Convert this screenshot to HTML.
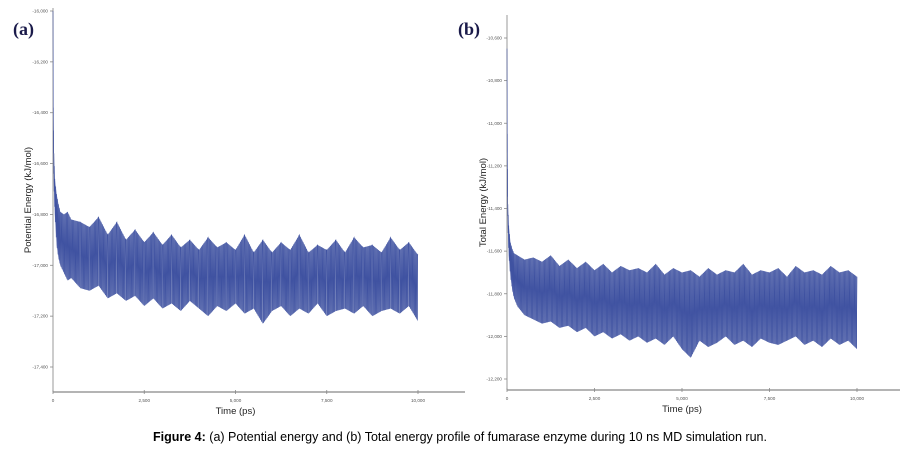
<!DOCTYPE html>
<html><head><meta charset="utf-8"><style>
body{margin:0;background:#fff;width:919px;height:452px;overflow:hidden;font-family:"Liberation Sans",sans-serif}
svg{position:absolute;left:0;top:0}
</style></head><body>
<svg id="chart" width="919" height="452">
<text x="13" y="35" font-family="Liberation Serif" font-weight="bold" font-size="18" fill="#1a1a4a">(a)</text>
<text x="458" y="35" font-family="Liberation Serif" font-weight="bold" font-size="18" fill="#1a1a4a">(b)</text>
<text x="460" y="441" text-anchor="middle" font-size="12.5" fill="#000"><tspan font-weight="bold">Figure 4:</tspan> (a) Potential energy and (b) Total energy profile of fumarase enzyme during 10 ns MD simulation run.</text>
</svg>
<script>
const times=[0,10,25,50,100,150,200,300,400,500,750,1000,1250,1500,1750,2000,2250,2500,2750,3000,3250,3500,3750,4000,4250,4500,4750,5000,5250,5500,5750,6000,6250,6500,6750,7000,7250,7500,7750,8000,8250,8500,8750,9000,9250,9500,9750,10000];
const peHigh=[-16000,-16380,-16560,-16660,-16720,-16760,-16790,-16800,-16790,-16820,-16830,-16850,-16810,-16880,-16830,-16900,-16860,-16910,-16870,-16920,-16880,-16930,-16900,-16940,-16890,-16930,-16910,-16940,-16880,-16950,-16900,-16950,-16910,-16940,-16880,-16950,-16920,-16940,-16900,-16950,-16890,-16930,-16920,-16950,-16890,-16940,-16910,-16960];
const peLow=[-16000,-16520,-16680,-16800,-16920,-16970,-17000,-17030,-17060,-17050,-17090,-17100,-17080,-17130,-17110,-17140,-17120,-17160,-17130,-17170,-17150,-17180,-17140,-17170,-17200,-17160,-17180,-17150,-17190,-17170,-17230,-17180,-17160,-17200,-17170,-17190,-17150,-17200,-17180,-17170,-17190,-17160,-17200,-17180,-17170,-17190,-17160,-17220];
const teHigh=[-10650,-11050,-11380,-11480,-11560,-11590,-11610,-11620,-11630,-11640,-11630,-11650,-11620,-11670,-11640,-11680,-11650,-11690,-11660,-11700,-11670,-11690,-11680,-11700,-11660,-11710,-11680,-11700,-11690,-11720,-11680,-11710,-11690,-11700,-11660,-11710,-11690,-11700,-11680,-11720,-11670,-11700,-11690,-11710,-11670,-11700,-11690,-11720];
const teLow=[-10650,-11300,-11480,-11620,-11720,-11780,-11820,-11860,-11880,-11900,-11920,-11940,-11930,-11960,-11950,-11980,-11960,-12000,-11980,-12010,-11990,-12020,-12000,-12030,-12010,-12040,-12000,-12060,-12100,-12020,-12050,-12030,-12000,-12040,-12020,-12050,-12010,-12030,-12040,-12020,-12000,-12040,-12020,-12050,-12010,-12040,-12020,-12060];
const xTicks=[0,2500,5000,7500,10000];
const xTickLabels=["0","2,500","5,000","7,500","10,000"];
const peTicks=[-16000,-16200,-16400,-16600,-16800,-17000,-17200,-17400];
const peTickLabels=["-16,000","-16,200","-16,400","-16,600","-16,800","-17,000","-17,200","-17,400"];
const teTicks=[-10600,-10800,-11000,-11200,-11400,-11600,-11800,-12000,-12200];
const teTickLabels=["-10,600","-10,800","-11,000","-11,200","-11,400","-11,600","-11,800","-12,000","-12,200"];

const svg=document.getElementById('chart');
const NS='http://www.w3.org/2000/svg';
function mk(tag,attrs){const e=document.createElementNS(NS,tag);for(const k in attrs)e.setAttribute(k,attrs[k]);svg.appendChild(e);return e;}

function panel(cfg){
  const x=t=>cfg.x0+(t-0)/10000*(cfg.x1-cfg.x0);
  const y=v=>cfg.yTop+(cfg.vTop-v)/(cfg.vTop-cfg.vBot)*(cfg.yBot-cfg.yTop);
  let a=mk('line',{x1:cfg.x0,y1:cfg.axTop,x2:cfg.x0,y2:cfg.axY,stroke:'#999','stroke-width':1});
  
  
  a=mk('line',{x1:cfg.x0,y1:cfg.axY,x2:cfg.axEnd,y2:cfg.axY,stroke:'#888','stroke-width':1.2});
  
  
  cfg.yTicks.forEach((v,i)=>{
    const t=mk('line',{x1:cfg.x0-3,y1:y(v),x2:cfg.x0,y2:y(v),stroke:'#888','stroke-width':0.8});
    
    
    const l=mk('text',{x:cfg.x0-5,y:y(v)+1.5,'text-anchor':'end','font-size':4.6,fill:'#555'});
    l.textContent=cfg.yLabels[i];
    
    
  });
  xTicks.forEach((v,i)=>{
    const t=mk('line',{x1:x(v),y1:cfg.axY-2,x2:x(v),y2:cfg.axY+2,stroke:'#888','stroke-width':0.8});
    
    
    const l=mk('text',{x:x(v),y:cfg.axY+10,'text-anchor':'middle','font-size':4.6,fill:'#555'});
    l.textContent=xTickLabels[i];
    
    
  });
  let tt=mk('text',{x:(cfg.x0+x(10000))/2,y:cfg.axY+22,'text-anchor':'middle','font-size':9.5,fill:'#222'});
  tt.textContent='Time (ps)';
  
  
  const yc=(cfg.axTop+cfg.axY)/2;
  tt=mk('text',{x:cfg.titleX,y:yc,'text-anchor':'middle','font-size':9.5,fill:'#222',transform:'rotate(-90 '+cfg.titleX+' '+yc+')'});
  tt.textContent=cfg.yTitle;
  
  
  let pts=[];
  times.forEach((t,i)=>pts.push(x(t)+','+y(cfg.hi[i])));
  for(let i=times.length-1;i>=0;i--)pts.push(x(times[i])+','+y(cfg.lo[i]));
  const band=mk('polygon',{points:pts.join(' '),fill:'#3b4e9e','fill-opacity':0.7,stroke:'none'});
  
  
  let lp=[];
  for(let i=0;i<times.length-1;i++){
    const sub=Math.max(4,Math.round((x(times[i+1])-x(times[i]))*1.6));
    for(let k=0;k<sub;k++){
      const f=k/sub;
      const t=times[i]+(times[i+1]-times[i])*f;
      const h=cfg.hi[i]+(cfg.hi[i+1]-cfg.hi[i])*f;
      const lo=cfg.lo[i]+(cfg.lo[i+1]-cfg.lo[i])*f;
      lp.push(x(t).toFixed(2)+','+y(k%2?lo:h).toFixed(2));
    }
  }
  lp.push(x(times[times.length-1])+','+y(cfg.hi[times.length-1]));
  const line=mk('polyline',{points:lp.join(' '),fill:'none',stroke:'#3a4d9f','stroke-width':0.6,'stroke-opacity':0.9});
  
  
}
panel({id:'potential',x0:53,x1:418,axEnd:465,axTop:8,axY:392,yTop:11,yBot:367,vTop:-16000,vBot:-17400,hi:peHigh,lo:peLow,yTicks:peTicks,yLabels:peTickLabels,yTitle:'Potential Energy (kJ/mol)',titleX:31});
panel({id:'total',x0:507,x1:857,axEnd:900,axTop:15,axY:390,yTop:38,yBot:379,vTop:-10600,vBot:-12200,hi:teHigh,lo:teLow,yTicks:teTicks,yLabels:teTickLabels,yTitle:'Total Energy (kJ/mol)',titleX:486});
</script>
</body></html>
